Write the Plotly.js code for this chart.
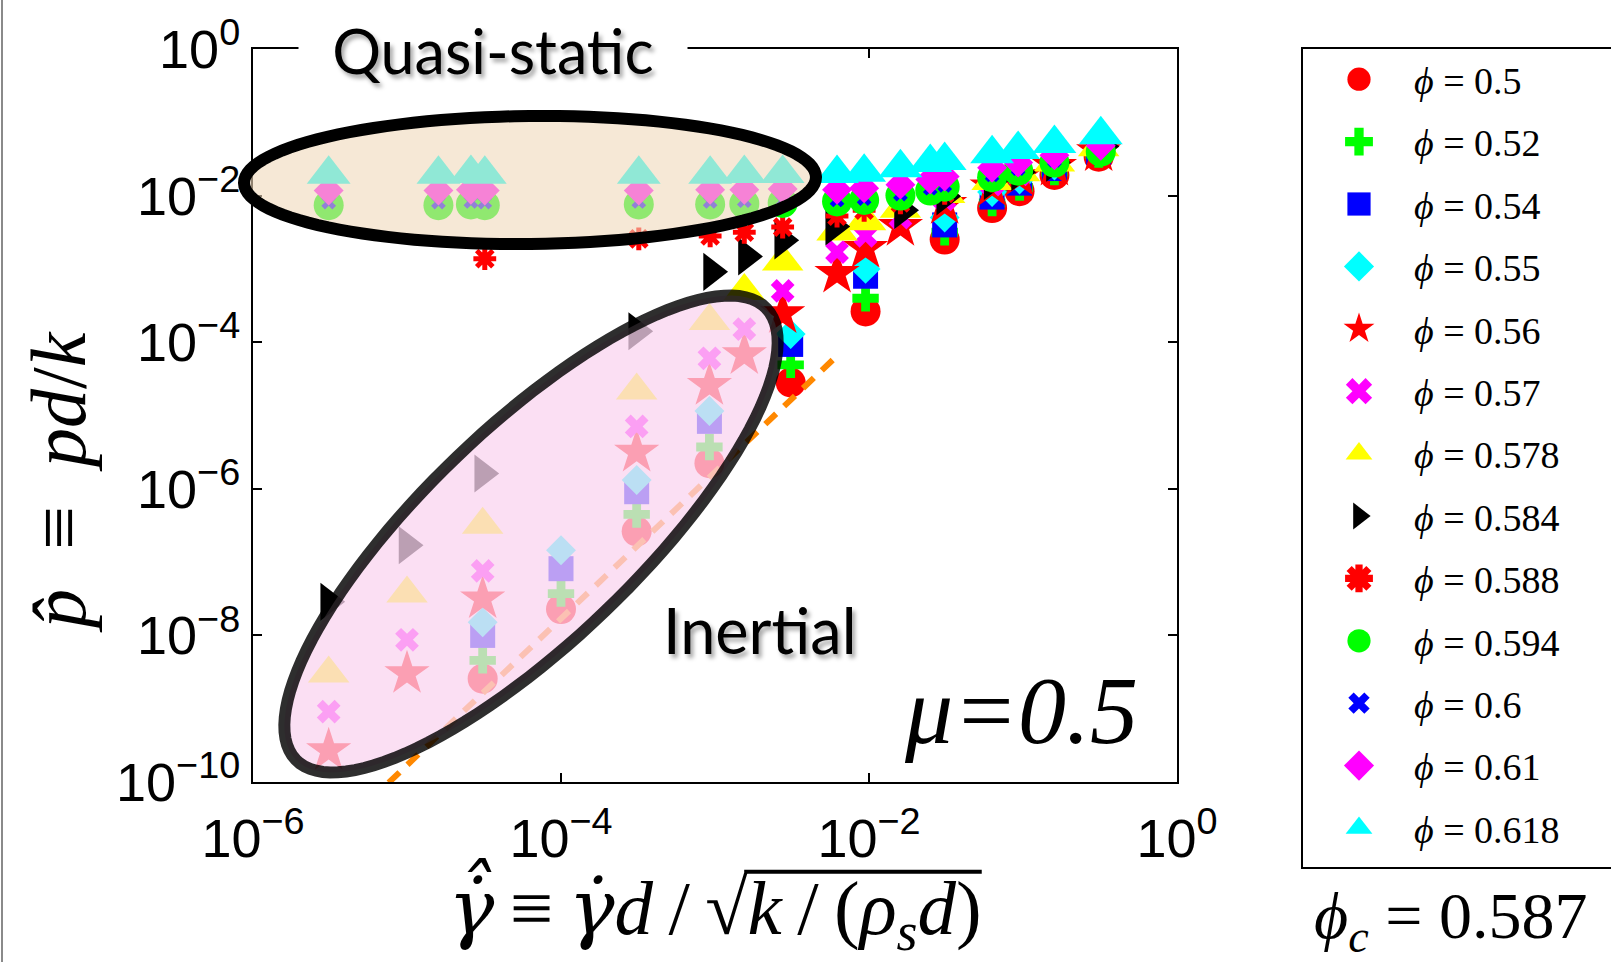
<!DOCTYPE html>
<html>
<head>
<meta charset="utf-8">
<script src="https://cdn.plot.ly/plotly-3.0.1.min.js"></script>
<style>
  html, body { margin: 0; padding: 0; background: #ffffff; }
  #chart { width: 1611px; height: 962px; }
</style>
</head>
<body>
<div id="chart"></div>
<script>
// Dimensionless shear rate grids used by the different packing fractions
const rateA = [3.1e-5, 1e-4, 3.1e-4, 9.2e-4, 3.1e-3, 9.5e-3, 3.1e-2, 6.3e-2, 9.5e-2, 0.16, 0.31];
const rateB = [3.1e-6, 1e-5, 3.1e-5, 3.1e-4, 9.2e-4, 1.55e-3, 2.75e-3, 6.2e-3, 9.5e-3, 1.6e-2, 3.1e-2, 6.3e-2, 9.5e-2, 0.16, 0.31];
const rateC = [3.1e-6, 1e-5, 3.1e-5, 3.1e-4, 9.5e-4, 1.6e-3, 2.75e-3, 5.9e-3, 1.65e-2, 3.1e-2, 6.3e-2, 9.5e-2, 0.16, 0.33];
const rateD = [3.2e-5, 3.2e-4, 9.3e-4, 1.55e-3, 2.75e-3, 6.2e-3, 9.3e-3, 1.6e-2, 3.1e-2, 6.3e-2, 9.3e-2, 0.16, 0.32];
const rateQ = [3.1e-6, 1.6e-5, 2.6e-5, 3.2e-5, 3.2e-4, 9.3e-4, 1.55e-3, 2.75e-3, 6.2e-3, 9.3e-3, 1.6e-2, 2.5e-2, 3.1e-2, 6.3e-2, 9.3e-2, 0.16, 0.32];

// Dimensionless pressure for each packing fraction
const p050  = [2.57e-9, 2.29e-8, 2.63e-7, 2.24e-6, 2.82e-5, 2.63e-4, 2.51e-3, 6.76e-3, 1.15e-2, 1.91e-2, 3.39e-2];
const p052  = [4.57e-9, 3.72e-8, 4.47e-7, 3.72e-6, 4.90e-5, 3.98e-4, 3.16e-3, 7.94e-3, 1.29e-2, 2.09e-2, 3.63e-2];
const p054  = [1.0e-8, 8.13e-8, 9.12e-7, 8.32e-6, 9.33e-5, 7.94e-4, 3.98e-3, 9.55e-3, 1.48e-2, 2.34e-2, 3.89e-2];
const p055  = [1.51e-8, 1.45e-7, 1.32e-6, 1.15e-5, 1.29e-4, 1.0e-3, 5.01e-3, 1.12e-2, 1.66e-2, 2.57e-2, 4.17e-2];
const p056  = [2.69e-10, 3.02e-9, 3.16e-8, 3.16e-6, 2.57e-5, 6.76e-5, 2.45e-4, 8.71e-4, 1.91e-3, 3.80e-3, 7.59e-3, 1.32e-2, 1.82e-2, 2.51e-2, 3.98e-2];
const p057  = [9.12e-10, 8.71e-9, 7.59e-8, 7.08e-6, 6.03e-5, 1.51e-4, 5.01e-4, 1.70e-3, 2.82e-3, 5.01e-3, 8.91e-3, 1.41e-2, 1.95e-2, 2.69e-2, 4.27e-2];
const p0578 = [3.02e-9, 3.72e-8, 3.24e-7, 2.19e-5, 1.95e-4, 5.01e-4, 1.26e-3, 3.24e-3, 4.47e-3, 6.61e-3, 1.05e-2, 1.58e-2, 2.09e-2, 2.82e-2, 4.57e-2];
const p0584 = [2.88e-8, 1.70e-7, 1.62e-6, 1.41e-4, 9.12e-4, 1.48e-3, 2.45e-3, 3.80e-3, 6.31e-3, 9.77e-3, 1.58e-2, 2.09e-2, 2.82e-2, 4.68e-2];
const p0588 = [1.38e-3, 2.57e-3, 2.82e-3, 3.16e-3, 3.72e-3, 5.25e-3, 6.31e-3, 7.94e-3, 1.07e-2, 1.58e-2, 2.0e-2, 2.63e-2, 3.80e-2];
const p0594 = [7.41e-3, 7.41e-3, 7.59e-3, 7.41e-3, 7.59e-3, 7.59e-3, 7.76e-3, 7.94e-3, 8.32e-3, 8.71e-3, 1.0e-2, 1.17e-2, 1.32e-2, 1.78e-2, 2.19e-2, 2.82e-2, 3.98e-2];
const p060  = [8.13e-3, 8.13e-3, 8.32e-3, 8.13e-3, 8.32e-3, 8.32e-3, 8.51e-3, 8.51e-3, 8.71e-3, 9.12e-3, 1.05e-2, 1.26e-2, 1.38e-2, 1.91e-2, 2.34e-2, 3.02e-2, 4.27e-2];
const p061  = [1.17e-2, 1.17e-2, 1.20e-2, 1.17e-2, 1.17e-2, 1.20e-2, 1.20e-2, 1.23e-2, 1.20e-2, 1.26e-2, 1.41e-2, 1.66e-2, 1.82e-2, 2.40e-2, 2.82e-2, 3.55e-2, 4.79e-2];
const p0618 = [1.95e-2, 1.95e-2, 2.0e-2, 1.95e-2, 1.95e-2, 1.95e-2, 2.0e-2, 2.0e-2, 2.0e-2, 2.09e-2, 2.40e-2, 2.82e-2, 3.02e-2, 3.72e-2, 4.27e-2, 5.13e-2, 6.76e-2];

// Inertial scaling guide (p ~ shear rate squared)
const guideRate = [7.6e-6, 6.0e-3];
const guideP = [9.8e-11, 6.1e-5];

const phiLabels = ['0.5', '0.52', '0.54', '0.55', '0.56', '0.57', '0.578', '0.584', '0.588', '0.594', '0.6', '0.61', '0.618'];

// Decade tick marks and their labels
const xTickVals = [1e-6, 1e-4, 1e-2, 1];
const xTickText = ['10<sup>−6</sup>', '10<sup>−4</sup>', '10<sup>−2</sup>', '10<sup>0</sup>'];
const yTickVals = [1e-10, 1e-8, 1e-6, 1e-4, 1e-2, 1];
const yTickText = ['10<sup>−10</sup>', '10<sup>−8</sup>', '10<sup>−6</sup>', '10<sup>−4</sup>', '10<sup>−2</sup>', '10<sup>0</sup>'];

const series = [
  { x: rateA, y: p050,  symbol: 'circle',         color: '#ff0000', size: 30 },
  { x: rateA, y: p052,  symbol: 'cross',          color: '#00ff00', size: 22 },
  { x: rateA, y: p054,  symbol: 'square',         color: '#0000ff', size: 25 },
  { x: rateA, y: p055,  symbol: 'diamond',        color: '#00ffff', size: 23 },
  { x: rateB, y: p056,  symbol: 'star',           color: '#ff0000', size: 34 },
  { x: rateB, y: p057,  symbol: 'x',              color: '#ff00ff', size: 21 },
  { x: rateB, y: p0578, symbol: 'triangle-up',    color: '#ffff00', size: 36 },
  { x: rateC, y: p0584, symbol: 'triangle-right', color: '#000000', size: 33 },
  { x: rateD, y: p0588, symbol: 'asterisk-open',  color: '#ff0000', size: 19, lw: 5 },
  { x: rateQ, y: p0594, symbol: 'circle',         color: '#00ff00', size: 30 },
  { x: rateQ, y: p060,  symbol: 'x',              color: '#0000ff', size: 13 },
  { x: rateQ, y: p061,  symbol: 'diamond',        color: '#ff00ff', size: 23 },
  { x: rateQ, y: p0618, symbol: 'triangle-up',    color: '#00ffff', size: 38 }
];

const traces = series.map((s, i) => ({
  type: 'scatter',
  mode: 'markers',
  x: s.x,
  y: s.y,
  name: '<i>ϕ</i> = ' + phiLabels[i],
  legendgroup: 'g' + i,
  marker: {
    symbol: s.symbol,
    color: s.color,
    size: s.size,
    line: s.lw ? { color: s.color, width: s.lw } : { width: 0 }
  },
  hoverinfo: 'x+y+name'
}));

traces.push({
  type: 'scatter',
  mode: 'lines',
  x: guideRate,
  y: guideP,
  showlegend: false,
  hoverinfo: 'skip',
  line: { color: '#ff8800', width: 6, dash: '15px,11px' }
});

// Plot-area geometry in pixels; the paper area runs a little below the axes
// so that the tall legend has room without scrolling
const L = 253, R = 1177, T = 49, B = 782;
const PAPER_BOTTOM = 902;
const px2x = p => (p - L) / (R - L);
const px2y = p => (PAPER_BOTTOM - p) / (PAPER_BOTTOM - T);

// Closed elliptical outline, given in pixel geometry, expressed in paper units
function ellipsePath(cx, cy, a, b, angDeg) {
  const th = angDeg * Math.PI / 180;
  const n = 120;
  let d = '';
  for (let i = 0; i < n; i++) {
    const t = 2 * Math.PI * i / n;
    const ex = a * Math.cos(t), ey = b * Math.sin(t);
    const px = cx + ex * Math.cos(th) - ey * Math.sin(th);
    const py = cy - (ex * Math.sin(th) + ey * Math.cos(th));
    d += (i === 0 ? 'M' : 'L') + px2x(px).toFixed(5) + ',' + px2y(py).toFixed(5);
  }
  return d + 'Z';
}

const serif = 'Liberation Serif, Times New Roman, serif';
const sans = 'Liberation Sans, Arial, sans-serif';
const humanist = 'Lato, Open Sans, sans-serif';
const greek = '<span style="font-family:DejaVu Serif;font-style:italic">';

const axisCommon = {
  type: 'log',
  tickmode: 'array',
  ticks: 'inside',
  ticklen: 9,
  tickwidth: 2,
  tickcolor: '#000',
  showline: true,
  linewidth: 2,
  linecolor: '#000',
  mirror: 'ticks',
  showgrid: false,
  zeroline: false,
  tickfont: { family: sans, size: 54, color: '#000' }
};

const baseShapes = [
  {
    type: 'path', xref: 'paper', yref: 'paper', layer: 'above',
    path: ellipsePath(530, 180, 286, 64, 0.6),
    fillcolor: 'rgba(240,217,187,0.6)',
    line: { color: '#000000', width: 12 }
  },
  {
    type: 'path', xref: 'paper', yref: 'paper', layer: 'above',
    path: ellipsePath(531, 534, 326, 107, 43.8),
    fillcolor: 'rgba(249,212,239,0.75)',
    line: { color: 'rgba(0,0,0,0.82)', width: 12 }
  },
  {
    type: 'rect', xref: 'paper', yref: 'paper', layer: 'above',
    x0: px2x(1302), x1: px2x(1650), y0: px2y(868), y1: px2y(48),
    line: { color: '#000000', width: 2 }
  },
  {
    type: 'line', xref: 'paper', yref: 'paper', layer: 'above',
    x0: px2x(2), x1: px2x(2), y0: px2y(0), y1: px2y(962),
    line: { color: '#8a8a8a', width: 2 }
  }
];

const layout = {
  width: 1611,
  height: 962,
  margin: { l: L, r: 1611 - R, t: T, b: 962 - PAPER_BOTTOM, autoexpand: false },
  paper_bgcolor: '#ffffff',
  plot_bgcolor: '#ffffff',
  showlegend: true,
  xaxis: Object.assign({}, axisCommon, {
    range: [-6, 0],
    tickvals: xTickVals,
    ticktext: xTickText,
    ticklabelstandoff: 8,
    title: {
      text: greek + 'γ̇̂</span>\u2009≡\u2009' + greek + 'γ̇</span><i>d</i>\u2009/\u2009√<i>k</i>\u2009/\u2009(<i>ρ</i><sub><i>s</i></sub><i>d</i>)',
      font: { family: serif, size: 77, color: '#000' },
      standoff: 36
    }
  }),
  yaxis: Object.assign({}, axisCommon, {
    range: [-10, 0],
    domain: [(PAPER_BOTTOM - B) / (PAPER_BOTTOM - T), 1],
    tickvals: yTickVals,
    ticktext: yTickText,
    ticklabelstandoff: 0
  }),
  legend: {
    x: px2x(1304),
    xanchor: 'left',
    y: px2y(48),
    yanchor: 'top',
    bgcolor: 'rgba(0,0,0,0)',
    borderwidth: 0,
    traceorder: 'grouped',
    tracegroupgap: 10,
    itemwidth: 100,
    maxheight: 900,
    font: { family: serif, size: 38, color: '#000' }
  },
  shapes: baseShapes,
  annotations: [
    {
      xref: 'paper', yref: 'paper', x: px2x(58), y: px2y(482),
      xanchor: 'center', yanchor: 'middle', textangle: -90,
      text: '<i>p̂</i>\u00a0\u00a0≡\u00a0\u00a0<i>pd</i>/<i>k</i>',
      showarrow: false,
      font: { family: serif, size: 78, color: '#000' }
    },
    {
      xref: 'paper', yref: 'paper', x: px2x(493), y: px2y(50),
      xanchor: 'center', yanchor: 'middle',
      text: '\u00a0\u00a0Quasi-static\u00a0\u00a0',
      showarrow: false,
      bgcolor: '#ffffff',
      borderpad: 2,
      font: { family: humanist, size: 61, color: '#000', shadow: '3px 4px 4px rgba(0,0,0,0.35)' }
    },
    {
      xref: 'paper', yref: 'paper', x: px2x(760), y: px2y(630),
      xanchor: 'center', yanchor: 'middle',
      text: 'Inertial',
      showarrow: false,
      font: { family: humanist, size: 63, color: '#000', shadow: '3px 4px 4px rgba(0,0,0,0.35)' }
    },
    {
      xref: 'paper', yref: 'paper', x: px2x(1021), y: px2y(710),
      xanchor: 'center', yanchor: 'middle',
      text: 'μ=0.5',
      showarrow: false,
      font: { family: serif, size: 96, color: '#000', style: 'italic' }
    },
    {
      xref: 'paper', yref: 'paper', x: px2x(1312), y: px2y(920),
      xanchor: 'left', yanchor: 'middle',
      text: '<i>ϕ</i><sub><i>c</i></sub> = 0.587',
      showarrow: false,
      font: { family: serif, size: 66, color: '#000' }
    }
  ]
};

// Enlarge the legend glyphs beyond the default legend symbol cap
function enlargeLegendSymbols(gd) {
  gd.querySelectorAll('.legend .legendpoints path.scatterpts').forEach(p => {
    if (p.getAttribute('data-enlarged')) return;
    const t = p.getAttribute('transform') || '';
    p.setAttribute('transform', t + ' scale(1.45)');
    p.setAttribute('data-enlarged', '1');
  });
}

// Radical bar over k/(ρ_s d), placed from the rendered glyph positions of the title
function radicalBar(gd) {
  const t = gd.querySelector('.xtitle');
  if (!t || typeof t.getExtentOfChar !== 'function') return null;
  const s = t.textContent;
  const i0 = s.indexOf('√');
  if (i0 < 0) return null;
  const svgBox = gd.querySelector('svg.main-svg').getBoundingClientRect();
  const m = t.getScreenCTM();
  const toPage = (x, y) => ({
    x: m.a * x + m.c * y + m.e - svgBox.left,
    y: m.b * x + m.d * y + m.f - svgBox.top
  });
  const a = t.getExtentOfChar(i0);
  const b = t.getExtentOfChar(s.length - 1);
  const fs = 77;
  const baseline = a.y + 0.891 * fs;
  const p0 = toPage(a.x + a.width * 0.92, baseline - 0.80 * fs);
  const p1 = toPage(b.x + b.width, baseline - 0.80 * fs);
  return {
    type: 'line', xref: 'paper', yref: 'paper', layer: 'above',
    x0: px2x(p0.x), x1: px2x(p1.x), y0: px2y(p0.y), y1: px2y(p1.y),
    line: { color: '#000000', width: 4 }
  };
}

Plotly.newPlot('chart', traces, layout, { displayModeBar: false }).then(gd => {
  gd.on('plotly_afterplot', () => enlargeLegendSymbols(gd));
  enlargeLegendSymbols(gd);
  let bar = null;
  try { bar = radicalBar(gd); } catch (e) { bar = null; }
  if (bar) {
    return Plotly.relayout(gd, { shapes: baseShapes.concat([bar]) }).then(() => enlargeLegendSymbols(gd));
  }
});
</script>
</body>
</html>
